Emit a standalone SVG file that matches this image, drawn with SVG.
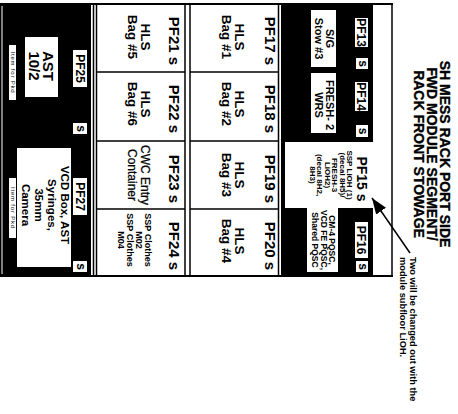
<svg xmlns="http://www.w3.org/2000/svg" width="458" height="414" viewBox="0 0 458 414">
<defs>
<style>
text{font-family:"Liberation Sans",Arial,sans-serif;fill:#000}
.pf{font-weight:bold;font-size:15px;text-anchor:middle}
.pfb{font-weight:bold;font-size:12px;text-anchor:middle}
.sb{font-weight:bold;font-size:12px;text-anchor:middle}
.hls{font-weight:bold;font-size:13.5px;text-anchor:middle}
.cwc{font-size:12px;text-anchor:middle;stroke:#000;stroke-width:0.25}
.sm{font-weight:bold;font-size:9px;text-anchor:middle}
.tiny{font-weight:bold;font-size:8px;text-anchor:middle}
.lbl{font-weight:bold;font-size:11px;text-anchor:middle}
.big{font-weight:bold;font-size:15px;text-anchor:middle}
.vcd{font-weight:bold;font-size:11.5px;text-anchor:middle}
.mini{font-size:6px;text-anchor:middle;letter-spacing:0.8px}
.title{font-weight:bold;font-size:14px;text-anchor:middle;stroke:#000;stroke-width:0.35}
.note{font-weight:bold;font-size:9.3px}
.w{fill:#fff}
.k{fill:#000}
.ln{stroke:#000;stroke-width:1.5;fill:none}
.frame{stroke:#000;stroke-width:2;fill:none}
</style>
<marker id="ah" viewBox="0 0 16 12" refX="16" refY="6" markerWidth="16" markerHeight="12" markerUnits="userSpaceOnUse" orient="auto"><path d="M0,0 L16,6 L0,12 z" fill="#000"/></marker>
</defs>
<rect width="458" height="414" fill="#fff"/>

<g id="rack-frame">
<rect class="k" x="0" y="4" width="91" height="272"/>
<line x1="2" y1="6" x2="2" y2="274" stroke="#fff" stroke-width="1"/>
<rect class="k" x="281" y="4" width="92" height="272"/>
<line class="ln" x1="93.5" y1="4" x2="93.5" y2="276" stroke-width="1.2"/>
<line class="ln" x1="96.5" y1="4" x2="96.5" y2="276"/>
<line class="ln" x1="185" y1="4" x2="185" y2="276"/>
<line class="ln" x1="190" y1="4" x2="190" y2="276"/>
<line class="ln" x1="278.5" y1="4" x2="278.5" y2="276"/>
<line class="ln" x1="96" y1="72" x2="185" y2="72"/>
<line class="ln" x1="96" y1="141" x2="185" y2="141"/>
<line class="ln" x1="96" y1="209" x2="185" y2="209"/>
<line class="ln" x1="190" y1="72" x2="278" y2="72"/>
<line class="ln" x1="190" y1="141" x2="278" y2="141"/>
<line class="ln" x1="190" y1="209" x2="278" y2="209"/>
<line class="frame" x1="0" y1="4" x2="393" y2="4"/>
<line class="frame" x1="0" y1="276" x2="393" y2="276"/>
<line class="ln" x1="392" y1="4" x2="392" y2="276"/>
</g>

<g id="title">
<text class="title" transform="translate(440,154) rotate(90)">SH MESS RACK PORT SIDE</text>
<text class="title" transform="translate(427,154) rotate(90)">FWD MODULE SEGMENT/</text>
<text class="title" transform="translate(414,154) rotate(90)">RACK FRONT STOWAGE</text>
</g>

<g id="note">
<text class="note" transform="translate(410,257) rotate(90)">Two will be changed out with the</text>
<text class="note" transform="translate(400,257) rotate(90)">module subfloor LiOH.</text>
</g>

<g id="PF25">
<rect class="w" x="73" y="50" width="14" height="37"/>
<text class="pfb" transform="translate(75.7,68.5) rotate(90)">PF25</text>
<rect class="w" x="73" y="123" width="14" height="11"/>
<text class="sb" transform="translate(77,128.5) rotate(90)">s</text>
<rect class="w" x="25" y="37" width="33" height="60"/>
<text class="big" transform="translate(43,66) rotate(90)">AST</text>
<text class="big" transform="translate(29,66) rotate(90)">10/2</text>
<rect class="w" x="9" y="45" width="7" height="55"/>
<text class="mini" transform="translate(10.6,72.5) rotate(90)">Item for Pkd</text>
</g>

<g id="PF27">
<rect class="w" x="73" y="178" width="14" height="37"/>
<text class="pfb" transform="translate(75.7,196.5) rotate(90)">PF27</text>
<rect class="w" x="73" y="261" width="14" height="11"/>
<text class="sb" transform="translate(77,266.5) rotate(90)">s</text>
<rect class="w" x="17" y="148" width="54" height="119"/>
<text class="vcd" transform="translate(61,205) rotate(90)"><tspan x="0" y="0">VCD Box, AST</tspan><tspan x="0" y="13.5">Syringes,</tspan><tspan x="0" y="26.5">35mm</tspan><tspan x="0" y="39">Camera</tspan></text>
<rect class="w" x="9" y="178" width="7" height="60"/>
<text class="mini" transform="translate(10.6,208) rotate(90)">Item for Pkd</text>
</g>

<g id="PF21">
<text class="pf" transform="translate(169,41) rotate(90)">PF21 s</text>
<text class="hls" transform="translate(141,37) rotate(90)"><tspan x="0" y="0">HLS</tspan><tspan x="0" y="13.5">Bag #5</tspan></text>
</g>
<g id="PF22">
<text class="pf" transform="translate(169,109) rotate(90)">PF22 s</text>
<text class="hls" transform="translate(141,104) rotate(90)"><tspan x="0" y="0">HLS</tspan><tspan x="0" y="13.5">Bag #6</tspan></text>
</g>
<g id="PF23">
<text class="pf" transform="translate(169,179) rotate(90)">PF23 s</text>
<text class="cwc" transform="translate(141,175) rotate(90)"><tspan x="0" y="0">CWC Entry</tspan><tspan x="0" y="13">Container</tspan></text>
</g>
<g id="PF24">
<text class="pf" transform="translate(169,246) rotate(90)">PF24 s</text>
<text class="sm" transform="translate(145,240) rotate(90)"><tspan x="0" y="0">SSP Clothes</tspan><tspan x="0" y="9">M02</tspan><tspan x="0" y="18">SSP Clothes</tspan><tspan x="0" y="27">M04</tspan></text>
</g>

<g id="PF17">
<text class="pf" transform="translate(265,41) rotate(90)">PF17 s</text>
<text class="hls" transform="translate(235,37) rotate(90)"><tspan x="0" y="0">HLS</tspan><tspan x="0" y="13.5">Bag #1</tspan></text>
</g>
<g id="PF18">
<text class="pf" transform="translate(265,109) rotate(90)">PF18 s</text>
<text class="hls" transform="translate(235,104) rotate(90)"><tspan x="0" y="0">HLS</tspan><tspan x="0" y="13.5">Bag #2</tspan></text>
</g>
<g id="PF19">
<text class="pf" transform="translate(265,179) rotate(90)">PF19 s</text>
<text class="hls" transform="translate(235,175) rotate(90)"><tspan x="0" y="0">HLS</tspan><tspan x="0" y="13.5">Bag #3</tspan></text>
</g>
<g id="PF20">
<text class="pf" transform="translate(265,246) rotate(90)">PF20 s</text>
<text class="hls" transform="translate(235,241) rotate(90)"><tspan x="0" y="0">HLS</tspan><tspan x="0" y="13.5">Bag #4</tspan></text>
</g>

<g id="PF13">
<rect class="w" x="355" y="18" width="13" height="29"/>
<text class="pfb" transform="translate(357.2,32.5) rotate(90)">PF13</text>
<rect class="w" x="356" y="58" width="12" height="11"/>
<text class="sb" transform="translate(359,63.5) rotate(90)">s</text>
<rect class="w" x="311" y="10" width="25" height="57"/>
<text class="lbl" transform="translate(326,38.5) rotate(90)"><tspan x="0" y="0">S/G</tspan><tspan x="0" y="11">Stow #3</tspan></text>
</g>

<g id="PF14">
<rect class="w" x="355" y="82" width="13" height="29"/>
<text class="pfb" transform="translate(357.2,96.5) rotate(90)">PF14</text>
<rect class="w" x="356" y="125" width="12" height="12"/>
<text class="sb" transform="translate(359,131) rotate(90)">s</text>
<rect class="w" x="311" y="73" width="25" height="60"/>
<text class="lbl" transform="translate(325.5,105) rotate(90)"><tspan x="0" y="0">FRESH- 2</tspan><tspan x="0" y="10.5">WRS</tspan></text>
</g>

<g id="PF15">
<rect class="w" x="285" y="142" width="88" height="66"/>
<text class="pf" transform="translate(357,179) rotate(90)" style="font-size:14px">PF15 s</text>
<text class="tiny" transform="translate(347,175) rotate(90)"><tspan x="0" y="0">SSP LiOH (1)</tspan><tspan x="0" y="7.4">(decal 8H5)/</tspan><tspan x="0" y="14.8">FRESH-3</tspan><tspan x="0" y="22.2">LiOH2)</tspan><tspan x="0" y="29.6">(decal 8H2,</tspan><tspan x="0" y="37">8H3)</tspan></text>
<rect class="w" x="307" y="207" width="31" height="65"/>
<text class="tiny" transform="translate(329,240) rotate(90)" style="font-size:8.5px"><tspan x="0" y="0">CM-4 PQSC,</tspan><tspan x="0" y="8.3">VCD FE PQSC,</tspan><tspan x="0" y="16.6">Shared PQSC</tspan></text>
</g>

<g id="PF16">
<rect class="w" x="355" y="222" width="13" height="36"/>
<text class="pfb" transform="translate(357.2,240) rotate(90)">PF16</text>
<rect class="w" x="356" y="261" width="12" height="11"/>
<text class="sb" transform="translate(359,266.5) rotate(90)">s</text>
</g>

<g id="connectors">
<line x1="410" y1="253" x2="372" y2="198" stroke="#000" stroke-width="1.5" marker-end="url(#ah)"/>
</g>
</svg>
